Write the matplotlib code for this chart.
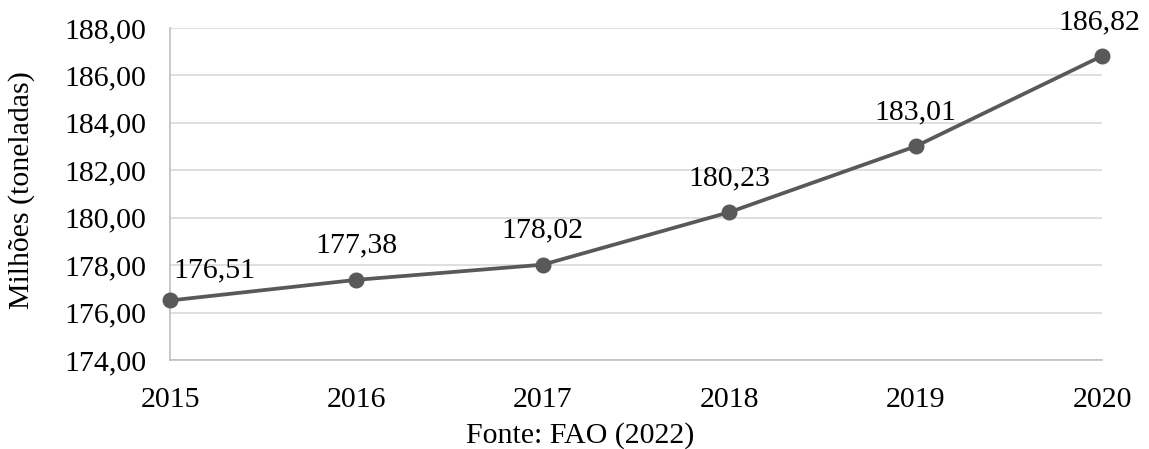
import matplotlib
matplotlib.use("Agg")
import matplotlib.pyplot as plt

years = [2015, 2016, 2017, 2018, 2019, 2020]
production = [176.51, 177.38, 178.02, 180.23, 183.01, 186.82]
yticks = [174, 176, 178, 180, 182, 184, 186, 188]

plt.rcParams['font.family'] = ['Liberation Serif', 'DejaVu Serif']
FS = 21.5

W, H = 1149, 449
fig = plt.figure(figsize=(W / 100, H / 100), dpi=100)
ax = fig.add_axes([170 / W, 1 - 360 / H, (1102 - 170) / W, (360 - 28) / H])

ax.plot(years, production, color='#595959', linewidth=2.7, marker='o',
        markersize=10.5, zorder=3, clip_on=False)

def fmt(v):
    return f"{v:.2f}".replace('.', ',')

# label offsets in pixels (dx, dy above the point)
offsets = {2015: (44, 30), 2020: (-3, 34)}
for x, y in zip(years, production):
    dx, dy = offsets.get(x, (0, 34))
    ax.annotate(fmt(y), (x, y), xytext=(dx * 0.72, dy * 0.72), textcoords='offset points',
                ha='center', va='center', fontsize=FS, color='#000000')

ax.set_xlim(2015, 2020)
ax.set_ylim(174, 188)
ax.set_yticks(yticks)
ax.set_yticklabels([fmt(v) for v in yticks])
ax.set_xticks(years)
ax.set_xticklabels([str(y) for y in years])
ax.tick_params(axis='both', length=0, labelsize=FS, colors='#000000')
ax.tick_params(axis='y', pad=17)
ax.tick_params(axis='x', pad=19.5)

ax.grid(axis='y', color='#d9d9d9', linewidth=1.2)
ax.set_axisbelow(True)
for s in ['top', 'right']:
    ax.spines[s].set_visible(False)
for s in ['left', 'bottom']:
    ax.spines[s].set_color('#bfbfbf')
    ax.spines[s].set_linewidth(1.2)

fig.text(22 / W, 1 - 190 / H, 'Milhões (toneladas)', rotation=90,
         ha='center', va='center', fontsize=FS)
fig.text(580 / W, 1 - 436 / H, 'Fonte: FAO (2022)', ha='center', va='center', fontsize=FS)

fig.savefig('out.png', dpi=100)
